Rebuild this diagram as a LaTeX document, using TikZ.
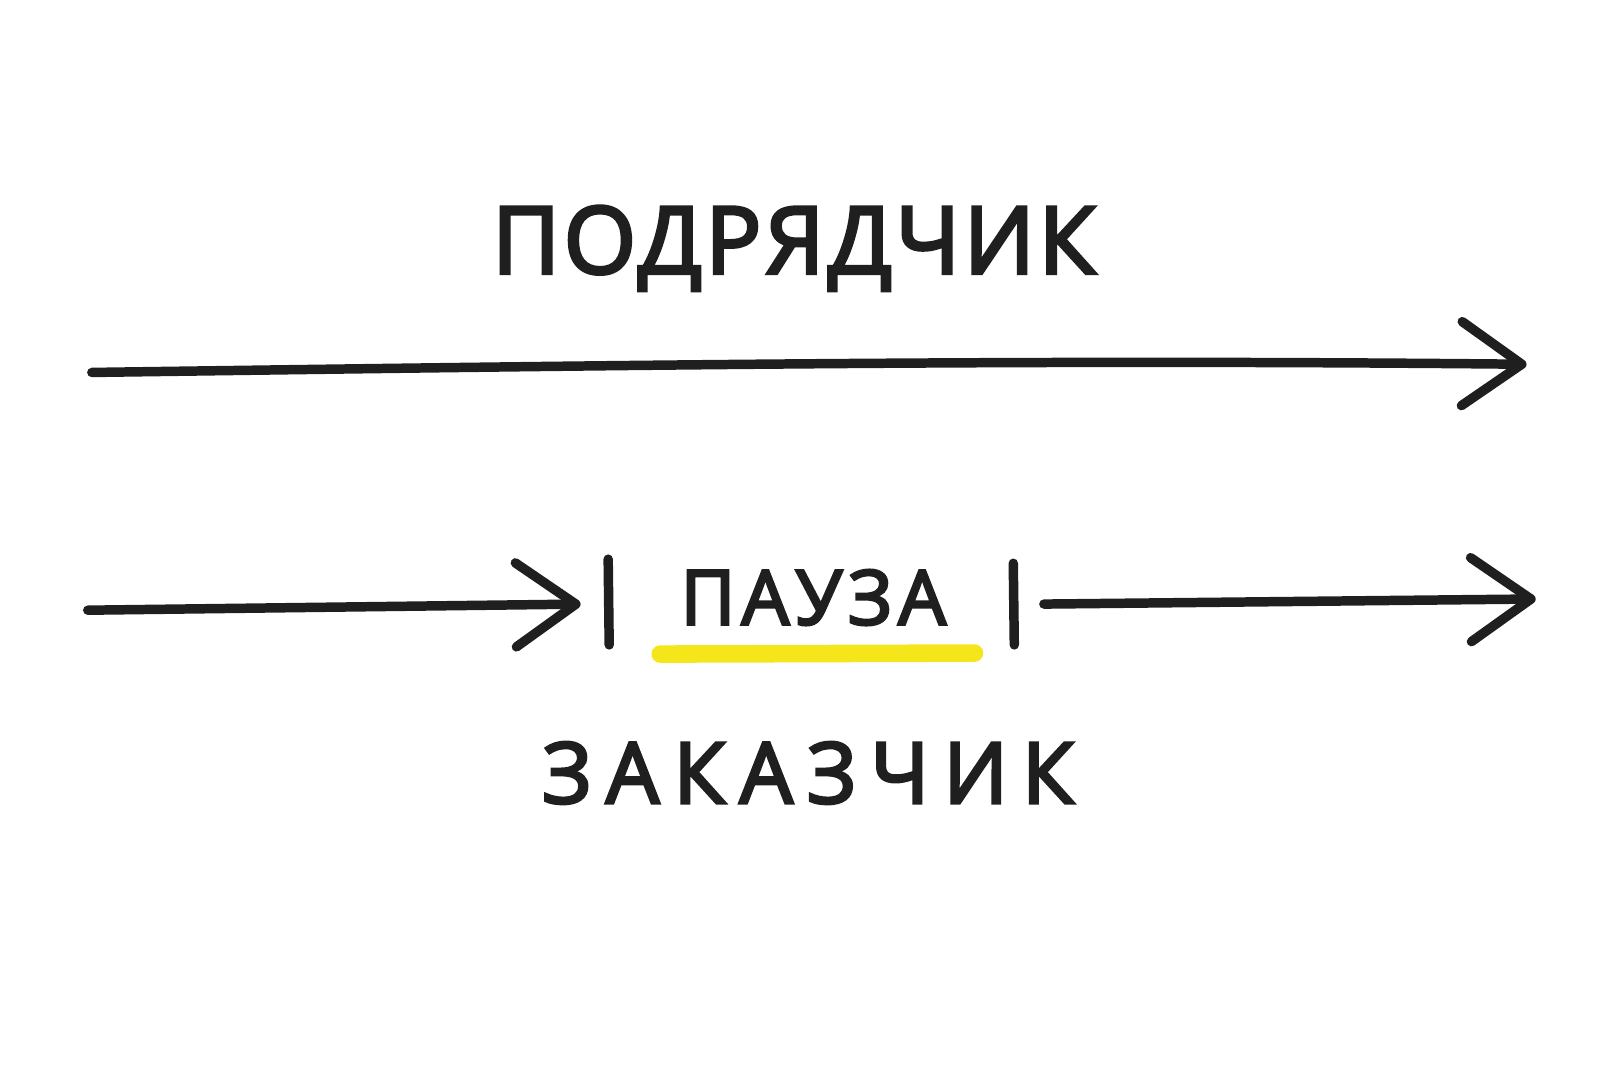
\documentclass[tikz,border=0pt]{standalone}
\usepackage{fontspec}
\setmainfont{Open Sans}
\newfontfamily\handfontA[LetterSpace=4,FakeBold=3.5]{Open Sans}
\newfontfamily\handfontB[LetterSpace=8,FakeBold=3.5]{Open Sans}
\newfontfamily\handfontC[LetterSpace=17,FakeBold=3.5]{Open Sans}
\usetikzlibrary{arrows.meta}
\definecolor{ink}{HTML}{1F1F1F}
\definecolor{marker}{HTML}{F5E51B}
\tikzset{
  stroke/.style={draw=ink, line width=2.7pt, line cap=round, line join=round},
  flow/.style={stroke, -{Straight Barb[length=0.6cm, width=0.84cm, line width=2.7pt, round]}},
  label/.style={text=ink, inner sep=0pt, anchor=base},
}
\begin{document}
\begin{tikzpicture}[x=0.010204cm, y=-0.010204cm]
\useasboundingbox (0,0) rectangle (1568,1045);
% texts
\node[label, font=\handfontA\fontsize{26.5}{30}\selectfont] (contractor) at (778,268) {ПОДРЯДЧИК};
\node[label, font=\handfontB\fontsize{21.5}{26}\selectfont] (pause) at (797,612) {ПАУЗА};
\node[label, font=\handfontC\fontsize{24}{28}\selectfont] (client) at (792,787) {ЗАКАЗЧИК};
% top arrow
\coordinate (t1) at (90,365);
\coordinate (t2) at (1496,357);
\draw[flow] (t1) .. controls (600,358) and (1000,352) .. (t2);
% bottom left arrow
\coordinate (l1) at (86,598);
\coordinate (l2) at (569,592);
\draw[flow] (l1) -- (l2);
% bars
\coordinate (b1a) at (596,548);
\coordinate (b1b) at (597,632);
\coordinate (b2a) at (993,552);
\coordinate (b2b) at (994,632);
\draw[stroke] (b1a) -- (b1b);
\draw[stroke] (b2a) -- (b2b);
% yellow marker under pause
\coordinate (u1) at (647,641);
\coordinate (u2) at (955,640);
\draw[marker, line width=5pt, line cap=round] (u1) -- (u2);
% bottom right arrow
\coordinate (r1) at (1023,592);
\coordinate (r2) at (1505,587);
\draw[flow] (r1) -- (r2);
\end{tikzpicture}
\end{document}
